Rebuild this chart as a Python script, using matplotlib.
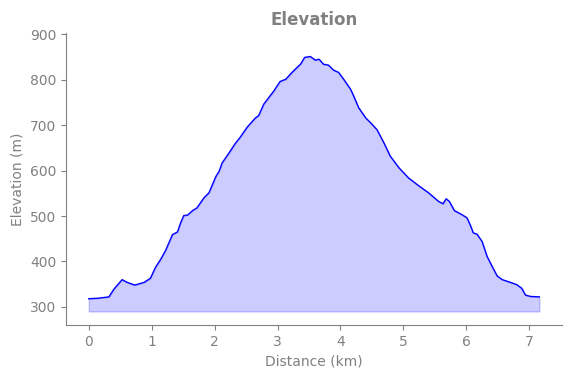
import numpy as np
import matplotlib
matplotlib.use("Agg")
import matplotlib.pyplot as plt

# elevation profile
distance_km = [0.00, 0.14, 0.32, 0.40, 0.53, 0.61, 0.73, 0.88, 0.98, 1.06,
               1.14, 1.22, 1.33, 1.41, 1.46, 1.51, 1.57, 1.65, 1.72, 1.83,
               1.91, 2.02, 2.07, 2.12, 2.23, 2.33, 2.41, 2.52, 2.65, 2.70,
               2.78, 2.94, 3.04, 3.13, 3.23, 3.37, 3.43, 3.52, 3.60, 3.66,
               3.73, 3.81, 3.89, 3.97, 4.05, 4.16, 4.21, 4.29, 4.40, 4.48,
               4.58, 4.69, 4.79, 4.93, 5.08, 5.22, 5.40, 5.56, 5.63, 5.68,
               5.73, 5.81, 5.93, 6.01, 6.06, 6.11, 6.17, 6.25, 6.33, 6.41,
               6.49, 6.57, 6.70, 6.80, 6.88, 6.94, 7.02, 7.16]
elevation_m = [318, 319, 322, 339, 360, 354, 348, 354, 363, 387,
               404, 424, 459, 465, 485, 501, 502, 512, 518, 540,
               551, 587, 598, 617, 639, 660, 674, 696, 716, 721,
               746, 775, 796, 801, 816, 835, 849, 851, 843, 845,
               834, 832, 821, 816, 801, 779, 764, 738, 716, 705,
               690, 661, 632, 606, 584, 569, 551, 532, 527, 538,
               532, 512, 503, 496, 481, 463, 460, 444, 411, 389,
               368, 360, 354, 349, 341, 326, 323, 322]
fill_base = 290

x = np.array(distance_km)
y = np.array(elevation_m)

fig, ax = plt.subplots(figsize=(5.71, 3.78), dpi=100)
fig.subplots_adjust(left=0.116, right=0.984, top=0.913, bottom=0.14)

ax.fill_between(x, y, fill_base, color="blue", alpha=0.2)
ax.plot(x, y, color="blue", linewidth=1)

ax.set_ylim(260, 903)
ax.set_yticks([300, 400, 500, 600, 700, 800, 900])
ax.set_xticks(range(8))

ax.set_title("Elevation", color="gray", fontweight="bold", fontsize=12)
ax.set_xlabel("Distance (km)", color="gray")
ax.set_ylabel("Elevation (m)", color="gray")

for side in ["top", "right"]:
    ax.spines[side].set_visible(False)
for side in ["left", "bottom"]:
    ax.spines[side].set_color("gray")
ax.tick_params(colors="gray")

fig.savefig("out.png", dpi=100)
